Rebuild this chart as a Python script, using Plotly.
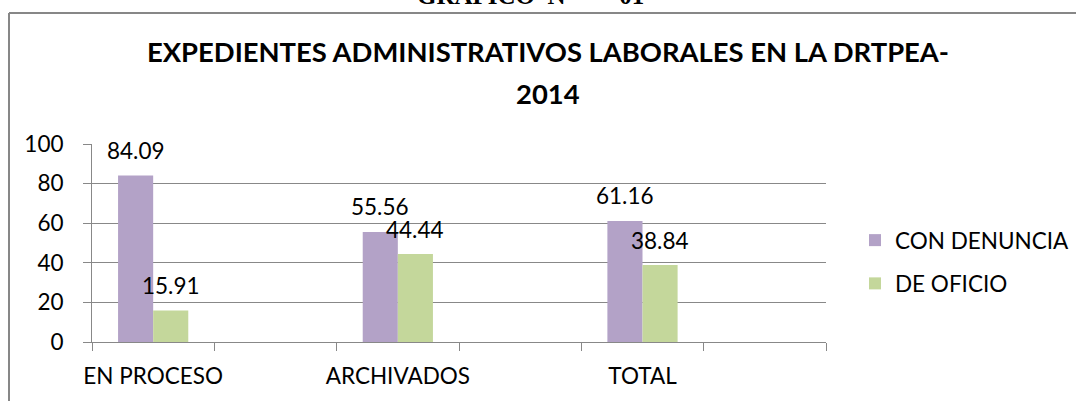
import plotly.graph_objects as go

categories = ["EN PROCESO", " ", "ARCHIVADOS", "  ", "TOTAL", "   "]
con_denuncia = [84.09, None, 55.56, None, 61.16, None]
de_oficio = [15.91, None, 44.44, None, 38.84, None]
series_names = ["CON DENUNCIA", "DE OFICIO"]
title_line1 = "EXPEDIENTES ADMINISTRATIVOS LABORALES EN LA DRTPEA-"
title_line2 = "2014"
header_text = "GRAFICO\u00a0\u00a0N°\u00a0\u00a0\u00a0\u00a0\u00a0\u00a0\u00a001"
y_ticks = [0, 20, 40, 60, 80, 100]

PURPLE = "#B3A2C7"
GREEN = "#C4D79B"
GRID = "#888888"
FONT = "Lato"
FS = 22.5

W, H = 1076, 401
L, R, T, B = 92, 250, 144, 59
PW, PH = W - L - R, H - T - B

def px_x(p):
    return (p - L) / PW

def px_y(p):
    return (H - B - p) / PH

fig = go.Figure()
fig.add_trace(go.Bar(x=categories, y=con_denuncia, name=series_names[0],
                     marker=dict(color=PURPLE, line=dict(width=0)),
                     legendgroup="a"))
fig.add_trace(go.Bar(x=categories, y=de_oficio, name=series_names[1],
                     marker=dict(color=GREEN, line=dict(width=0)),
                     legendgroup="b"))

annotations = []
half_bar_px = PW / len(categories) * (1 - 0.426) / 4
for vals, sign in ((con_denuncia, -1), (de_oficio, 1)):
    for c, v in zip(categories, vals):
        if v is None:
            continue
        annotations.append(dict(x=c, y=v, xref="x", yref="y", text=f"{v:.2f}",
                                showarrow=False, xshift=sign * half_bar_px,
                                yshift=25, yanchor="middle",
                                font=dict(family=FONT, size=FS, color="black")))

annotations.append(dict(x=px_x(548), y=px_y(52), xref="paper", yref="paper",
                        text=f"<b>{title_line1}</b>", showarrow=False,
                        xanchor="center", yanchor="middle",
                        font=dict(family=FONT, size=27.4, color="black")))
annotations.append(dict(x=px_x(548), y=px_y(94), xref="paper", yref="paper",
                        text=f"<b>{title_line2}</b>", showarrow=False,
                        xanchor="center", yanchor="middle",
                        font=dict(family=FONT, size=27.4, color="black")))
annotations.append(dict(x=px_x(415), y=px_y(11), xref="paper", yref="paper",
                        text=f"<b>{header_text}</b>", showarrow=False,
                        xanchor="left", yanchor="bottom",
                        font=dict(family="Liberation Serif", size=25, color="black")))

shapes = [
    dict(type="line", xref="paper", yref="paper", x0=px_x(9), x1=px_x(1080),
         y0=px_y(13), y1=px_y(13), line=dict(color="#878787", width=2)),
    dict(type="line", xref="paper", yref="paper", x0=px_x(9), x1=px_x(9),
         y0=px_y(13), y1=px_y(405), line=dict(color="#878787", width=2)),
]

fig.update_layout(
    width=W, height=H,
    margin=dict(l=L, r=R, t=T, b=B, pad=0, autoexpand=False),
    paper_bgcolor="white", plot_bgcolor="white",
    barmode="group", bargap=0.426, bargroupgap=0,
    font=dict(family=FONT, size=FS, color="black"),
    annotations=annotations, shapes=shapes,
    showlegend=True,
    legend=dict(x=px_x(855), y=px_y(262), xanchor="left", yanchor="middle",
                font=dict(family=FONT, size=FS, color="black"),
                tracegroupgap=11, traceorder="grouped",
                bgcolor="rgba(0,0,0,0)"),
    xaxis=dict(type="category", tickson="boundaries", ticks="outside",
               ticklen=8, tickcolor=GRID, tickwidth=1, tickangle=0,
               automargin=False, ticklabelstandoff=14,
               showline=True, linecolor=GRID, linewidth=1,
               showgrid=False, fixedrange=True,
               tickfont=dict(family=FONT, size=FS, color="black")),
    yaxis=dict(range=[0, 100], tickvals=y_ticks, ticks="outside", ticklen=8,
               tickcolor=GRID, showline=True, linecolor=GRID, linewidth=1,
               showgrid=True, gridcolor=GRID, gridwidth=1, zeroline=False,
               ticklabelstandoff=15, automargin=False, fixedrange=True,
               tickfont=dict(family=FONT, size=FS, color="black")),
)

fig.write_html("out.html", config={"displayModeBar": False},
               post_script="document.body.style.margin='0';document.body.style.overflow='hidden';")
